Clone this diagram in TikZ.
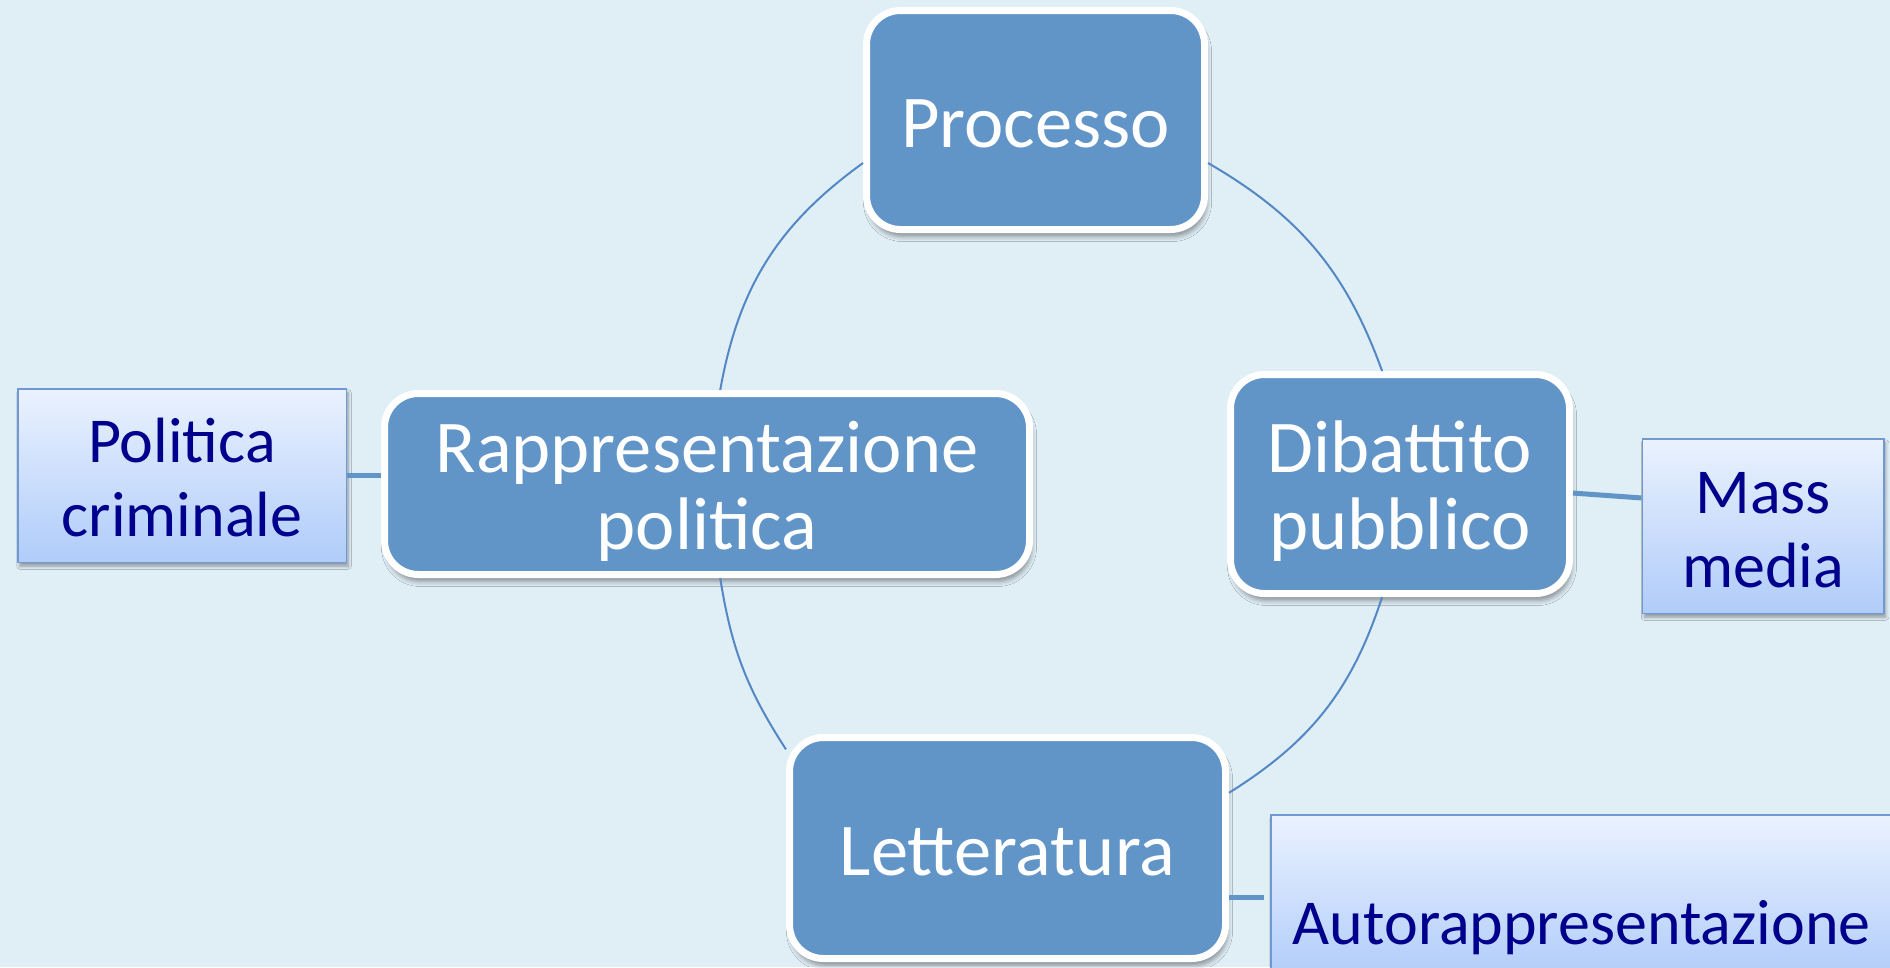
\documentclass[tikz,border=0pt]{standalone}
\usepackage{fontspec}
\setmainfont{Carlito}
\usetikzlibrary{shadows.blur}
\definecolor{bgc}{RGB}{224,238,246}
\definecolor{mainblue}{RGB}{97,149,200}
\definecolor{arcblue}{RGB}{84,136,196}
\definecolor{secborder}{RGB}{112,152,210}
\definecolor{sectop}{RGB}{234,242,254}
\definecolor{secbot}{RGB}{176,204,250}
\definecolor{sectext}{RGB}{0,0,140}
\begin{document}
\begin{tikzpicture}[x=1pt,y=-1pt,
  mainbox/.style={rectangle, rounded corners=34pt, fill=mainblue, draw=white, line width=7pt,
    inner sep=0pt, text=white, align=center, font=\fontsize{74.5}{77}\selectfont,
    blur shadow={shadow xshift=2pt, shadow yshift=-7pt, shadow blur radius=5pt, shadow opacity=40}},
  secbox/.style={rectangle, draw=secborder, line width=1.5pt, top color=sectop, bottom color=secbot,
    inner sep=0pt, text=sectext, align=center, font=\fontsize{64}{74}\selectfont,
    blur shadow={shadow xshift=2pt, shadow yshift=-4pt, shadow blur radius=3pt, shadow opacity=35}},
  arcline/.style={draw=arcblue, line width=2pt},
  conn/.style={draw=mainblue, line width=5pt}]
\clip (0,0) rectangle (1890,967);
\fill[bgc] (0,0) rectangle (1890,967);

% main nodes
\node[mainbox, minimum width=338pt, minimum height=219pt] (pro) at (1035.5,120)
  {\rule{0pt}{60pt}Processo\rule[-6pt]{0pt}{6pt}};
\node[mainbox, minimum width=645pt, minimum height=181pt] (rap) at (707,484)
  {\rule{0pt}{70pt}Rappresentazione\\politica\rule[-17pt]{0pt}{17pt}};
\node[mainbox, minimum width=339pt, minimum height=219pt] (dib) at (1400,484)
  {\rule{0pt}{70pt}Dibattito\\pubblico\rule[-17pt]{0pt}{17pt}};
\node[mainbox, minimum width=436pt, minimum height=221pt] (let) at (1007.5,848)
  {\rule{0pt}{60pt}Letteratura\rule[-6pt]{0pt}{6pt}};

% secondary nodes
\node[secbox, minimum width=328.5pt, minimum height=173.5pt] (pol) at (182,475.5)
  {\rule{0pt}{60pt}Politica\\criminale\rule[-12pt]{0pt}{12pt}};
\node[secbox, minimum width=241.5pt, minimum height=174.5pt] (mm) at (1763,526)
  {\rule{0pt}{60pt}Mass\\media\rule[-12pt]{0pt}{12pt}};
\node[secbox, anchor=north west, inner xsep=22pt, text width=640pt, align=left] (aut) at (1270,814)
  {\rule{0pt}{130pt}Autorappresentazione\rule[-36pt]{0pt}{36pt}};

% cycle arcs
\draw[arcline] (pro.-14) to[bend left=20] (dib.99);
\draw[arcline] (dib.261) to[bend left=20] (let.14);
\draw[arcline] (let.156.6) to[bend left=12] (rap.278);
\draw[arcline] (rap.82) to[bend left=22] (pro.194);

% connectors
\draw[conn] (pol.east) -- (pol.east -| rap.west);
\draw[conn] (dib.-3) -- (mm.167);
\draw[conn, shorten >=6pt] (aut.west -| let.east) -- (aut.west);
\end{tikzpicture}
\end{document}
